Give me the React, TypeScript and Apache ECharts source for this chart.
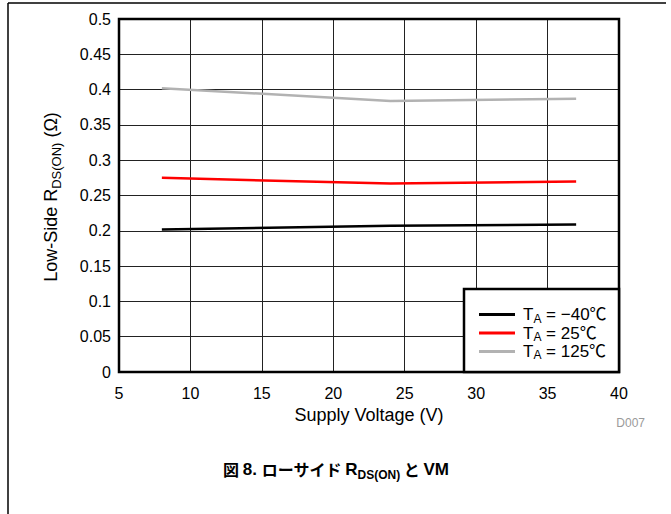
import React, { useEffect, useRef } from "react";
import * as echarts from "echarts";

// Supply voltage sample points (V)
const voltages = [8, 24, 37];
// Low-side RDS(ON) (Ω) at each ambient temperature
const rdsMinus40 = [0.202, 0.207, 0.209];
const rds25 = [0.275, 0.267, 0.27];
const rds125 = [0.402, 0.384, 0.387];

const seriesNames = ["T_A = −40℃", "T_A = 25℃", "T_A = 125℃"];
const seriesColors = ["#000000", "#ff0000", "#b2b2b2"];

const xTicks = { min: 5, max: 40, interval: 5 };
const yTicks = { min: 0, max: 0.5, interval: 0.05 };

const FONT = "'Liberation Sans', Arial, 'Noto Sans CJK JP', sans-serif";
const CJK = "'Noto Sans CJK JP', sans-serif";

const subRich = (size: number, lh: number, bold = false) => ({
  m: { fontSize: size, lineHeight: lh, fontFamily: FONT, color: "#000", fontWeight: bold ? "bold" : "normal" },
  s: {
    fontSize: Math.round(size * 0.72),
    lineHeight: Math.round(size * 0.72),
    verticalAlign: "bottom",
    fontFamily: FONT,
    color: "#000",
    fontWeight: bold ? "bold" : "normal",
  },
});

// Caption styles: bold Latin and bold CJK runs
const captionRich = {
  l: { fontSize: 17, lineHeight: 24, fontFamily: FONT, fontWeight: "bold", color: "#000" },
  j: { fontSize: 16, lineHeight: 24, fontFamily: CJK, fontWeight: "bold", color: "#000" },
  s: { fontSize: 12, lineHeight: 12, verticalAlign: "bottom", fontFamily: FONT, fontWeight: "bold", color: "#000" },
};

const legendLabel = (name: string) => {
  const rest = name.replace("T_A", "");
  return `{m|T}{s|A}{m|${rest}}`;
};

export default function App() {
  const ref = useRef<HTMLDivElement>(null);

  useEffect(() => {
    document.body.style.margin = "0";
    const chart = echarts.init(ref.current!, null, { renderer: "svg" });
    const seriesData = [rdsMinus40, rds25, rds125];

    chart.setOption({
      animation: false,
      backgroundColor: "#fff",
      textStyle: { fontFamily: FONT },
      grid: {
        left: 119,
        top: 19,
        width: 500,
        height: 353,
        show: true,
        borderColor: "#000",
        borderWidth: 2.5,
        backgroundColor: "transparent",
        z: 5,
      },
      xAxis: {
        type: "value",
        min: xTicks.min,
        max: xTicks.max,
        interval: xTicks.interval,
        name: "Supply Voltage (V)",
        nameLocation: "middle",
        nameGap: 32,
        nameTextStyle: { fontSize: 18, color: "#000", fontFamily: FONT },
        axisLine: { show: false },
        axisTick: { show: false },
        axisLabel: { fontSize: 16, color: "#000", margin: 13, fontFamily: FONT },
        splitLine: { show: true, lineStyle: { color: "#222", width: 1 } },
      },
      yAxis: {
        type: "value",
        min: yTicks.min,
        max: yTicks.max,
        interval: yTicks.interval,
        axisLine: { show: false },
        axisTick: { show: false },
        axisLabel: {
          fontSize: 16,
          color: "#000",
          margin: 8,
          fontFamily: FONT,
          formatter: (v: number) => String(Math.round(v * 100) / 100),
        },
        splitLine: { show: true, lineStyle: { color: "#222", width: 1 } },
      },
      legend: {
        orient: "vertical",
        left: 474,
        top: 301,
        itemWidth: 36,
        itemHeight: 3,
        itemGap: 0,
        icon: "rect",
        z: 20,
        data: seriesNames.map((n, i) => ({ name: n, itemStyle: { color: seriesColors[i] } })),
        formatter: legendLabel,
        textStyle: {
          padding: [0, 0, 0, 3],
          rich: subRich(17, 20),
        },
      },
      graphic: [
        {
          type: "line",
          shape: { x1: 8, y1: 3, x2: 666, y2: 3 },
          style: { stroke: "#000", lineWidth: 1.5 },
        },
        {
          type: "line",
          shape: { x1: 8, y1: 3, x2: 8, y2: 514 },
          style: { stroke: "#000", lineWidth: 1.5 },
        },
        {
          type: "rect",
          z: 10,
          shape: { x: 464, y: 289, width: 155, height: 83 },
          style: { fill: "#fff", stroke: "#000", lineWidth: 2.5 },
        },
        {
          type: "text",
          x: 51,
          y: 197,
          rotation: Math.PI / 2,
          style: {
            text: "{m|Low-Side R}{s|DS(ON)}{m| (Ω)}",
            rich: subRich(18, 24),
            align: "center",
            verticalAlign: "middle",
          },
        },
        {
          type: "text",
          x: 645,
          y: 423,
          style: {
            text: "D007",
            fill: "#9a9a9a",
            fontSize: 12,
            fontFamily: FONT,
            align: "right",
            verticalAlign: "middle",
          },
        },
        {
          type: "text",
          x: 336,
          y: 469,
          style: {
            text: "{j|図 }{l|8. }{j|ローサイド }{l|R}{s|DS(ON)}{j| と }{l|VM}",
            rich: captionRich,
            align: "center",
            verticalAlign: "middle",
          },
        },
      ],
      series: seriesData.map((vals, i) => ({
        name: seriesNames[i],
        type: "line",
        data: voltages.map((v, j) => [v, vals[j]]),
        showSymbol: false,
        symbol: "none",
        lineStyle: { color: seriesColors[i], width: 2.5 },
        itemStyle: { color: seriesColors[i] },
        z: 8,
      })),
    });

    return () => chart.dispose();
  }, []);

  return (
    <div
      ref={ref}
      style={{ position: "absolute", left: 0, top: 0, width: 671, height: 514 }}
    />
  );
}
